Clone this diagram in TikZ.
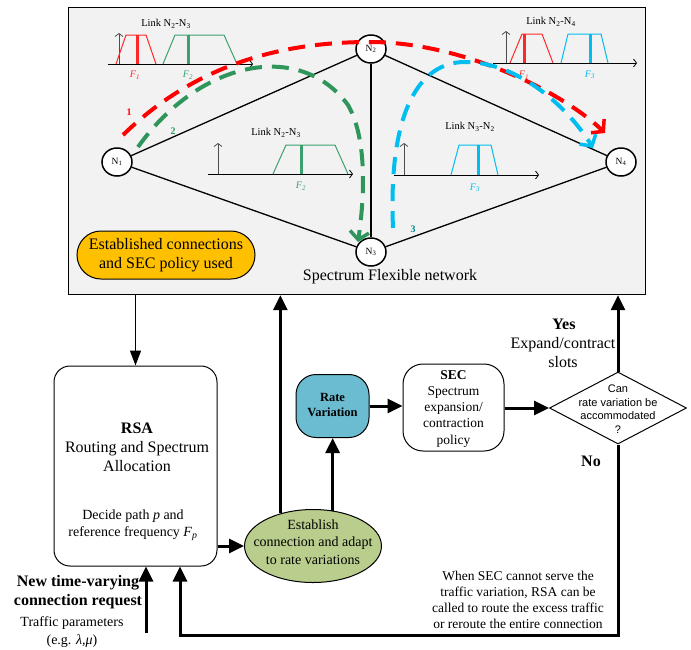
\documentclass[tikz,border=0pt]{standalone}
\usepackage{fontspec}
\setmainfont{Liberation Serif}
\newfontfamily\diafont{Liberation Sans}
\usetikzlibrary{arrows.meta,shapes.geometric,calc}
\definecolor{netgray}{RGB}{242,242,242}
\definecolor{estorange}{RGB}{255,192,0}
\definecolor{rateblue}{RGB}{107,188,209}
\definecolor{ellgreen}{RGB}{185,205,140}
\definecolor{pathred}{RGB}{255,0,0}
\definecolor{pathgreen}{RGB}{46,150,90}
\definecolor{pathblue}{RGB}{0,190,240}
\definecolor{specred}{RGB}{255,40,40}
\definecolor{specgreen}{RGB}{60,160,110}
\definecolor{labteal}{RGB}{0,140,140}
\tikzset{
  netnode/.style={ellipse, draw, line width=1.5pt, fill=white, minimum width=30pt, minimum height=28pt, inner sep=0pt, font=\fontsize{9.5}{10}\selectfont},
  link/.style={line width=1.3pt},
  pathline/.style={line width=4pt, dash pattern=on 17pt off 10pt, -{Straight Barb[length=8pt,width=19pt,line width=3.5pt]}},
  axisx/.style={line width=0.8pt, -{Straight Barb[length=3pt,width=8pt]}},
  axisy/.style={line width=0.8pt, draw=black!70, -{Straight Barb[length=3pt,width=8pt]}},
  specthin/.style={line width=1pt},
  specthick/.style={line width=3pt},
  flab/.style={font=\fontsize{10}{12}\selectfont, inner sep=0pt},
  linklab/.style={font=\fontsize{10.5}{12}\selectfont, inner sep=0pt},
  numlab/.style={font=\fontsize{10}{12}\selectfont\bfseries, inner sep=0pt},
  box/.style={draw, line width=1pt, inner sep=0pt},
  txt/.style={align=center, inner sep=0pt},
  thickarrow/.style={line width=3pt, -{Triangle[length=15pt,width=14pt]}},
  thinarrow/.style={line width=1.3pt, -{Triangle[length=15pt,width=11pt]}},
}
\begin{document}
\begin{tikzpicture}[x=1pt,y=-1pt]
\useasboundingbox (0,0) rectangle (691,649);
% network panel
\node[draw, fill=netgray, line width=1.2pt, minimum width=577pt, minimum height=287pt, inner sep=0pt, anchor=north west] (net) at (68,7) {};

% spectrum plot 1 (Link N2-N3, top left)
\draw[axisx] (108,64) -- (253,64);
\draw[axisy] (119,64) -- (119,33);
\draw[specthin, specred] (116,64) -- (126,35) -- (146,35) -- (156,64);
\draw[specthick, specred] (137,64) -- (137,35);
\draw[specthin, specgreen] (163,64) -- (175,35) -- (224,35) -- (237,64);
\draw[specthick, specgreen] (188,64) -- (188,35);
\node[flab, text=specred] (f1a) at (135,75) {\textit{F}\textsubscript{\textit{1}}};
\node[flab, text=specgreen] (f2a) at (188,75) {\textit{F}\textsubscript{\textit{2}}};
\node[linklab] (lk1) at (166,24) {Link N\textsubscript{2}-N\textsubscript{3}};

% spectrum plot 2 (Link N2-N4)
\draw[axisx] (493,63) -- (637,63);
\draw[axisy] (506,63) -- (506,31);
\draw[specthin, specred] (510,63) -- (522,34) -- (542,34) -- (553,63);
\draw[specthick, specred] (524,63) -- (524,34);
\draw[specthin, pathblue] (561,63) -- (568,34) -- (601,34) -- (608,63);
\draw[specthick, pathblue] (590,63) -- (590,34);
\node[flab, text=specred] (f1b) at (524,75) {\textit{F}\textsubscript{\textit{1}}};
\node[flab, text=pathblue] (f3b) at (590,75) {\textit{F}\textsubscript{\textit{3}}};
\node[linklab] (lk2) at (551,22) {Link N\textsubscript{2}-N\textsubscript{4}};

% spectrum plot 3 (Link N2-N3, middle)
\draw[axisx] (208,174) -- (353,174);
\draw[axisy] (218,174) -- (218,143);
\draw[specthin, specgreen] (273,174) -- (286,145) -- (335,145) -- (348,174);
\draw[specthick, specgreen] (301,174) -- (301,145);
\node[flab, text=specgreen] (f2c) at (301,186) {\textit{F}\textsubscript{\textit{2}}};
\node[linklab] (lk3) at (276,133) {Link N\textsubscript{2}-N\textsubscript{3}};

% spectrum plot 4 (Link N3-N2)
\draw[axisx] (394,175) -- (539,175);
\draw[axisy] (404,175) -- (404,143);
\draw[specthin, pathblue] (451,175) -- (459,145) -- (491,145) -- (498,175);
\draw[specthick, pathblue] (478,175) -- (478,145);
\node[flab, text=pathblue] (f3d) at (475,188) {\textit{F}\textsubscript{\textit{3}}};
\node[linklab] (lk4) at (470,127) {Link N\textsubscript{3}-N\textsubscript{2}};

% network nodes
\node[netnode] (N1) at (117,162) {N\textsubscript{1}};
\node[netnode] (N2) at (371,49) {N\textsubscript{2}};
\node[netnode] (N3) at (371,252) {N\textsubscript{3}};
\node[netnode] (N4) at (621,162) {N\textsubscript{4}};
\draw[link] (N1) -- (N2);
\draw[link] (N1) -- (N3);
\draw[link] (N2) -- (N3);
\draw[link] (N2) -- (N4);
\draw[link] (N3) -- (N4);

% lightpaths
\draw[pathline, pathred] (123,135) .. controls (200,60) and (290,42) .. (370,42) .. controls (460,42) and (560,90) .. (605,133);
\draw[pathline, pathgreen] (138,147) .. controls (200,60) and (300,40) .. (348,105) .. controls (368,140) and (364,200) .. (358,242);
\draw[pathline, pathblue] (393,228) .. controls (388,110) and (420,62) .. (465,62) .. controls (520,62) and (570,110) .. (593,148);
\node[numlab, text=pathred] (n1lab) at (129,112) {1};
\node[numlab, text=pathgreen] (n2lab) at (173,131) {2};
\node[numlab, text=labteal] (n3lab) at (413,229) {3};

\node[box, fill=estorange, rounded corners=24pt, minimum width=178pt, minimum height=48pt, align=center, font=\fontsize{16}{19}\selectfont] (est) at (166,255) {Established connections\\and SEC policy used};
\node[txt, font=\fontsize{16}{19}\selectfont] (netlab) at (390,277) {Spectrum Flexible network};

% lower flow
\node[box, rounded corners=16pt, minimum width=163pt, minimum height=200pt] (rsa) at (135.5,466) {};
\node[txt, font=\fontsize{16}{19}\selectfont] (rsaT) at (137,447) {\textbf{RSA}\\Routing and Spectrum\\Allocation};
\node[txt, font=\fontsize{14}{17}\selectfont] (rsaD) at (133,525.5) {Decide path \textit{p} and\\reference frequency \textit{F}\textsubscript{\textit{p}}};

\node[box, ellipse, fill=ellgreen, minimum width=137pt, minimum height=73pt] (ell) at (313,546) {};
\node[txt, font=\fontsize{14}{17.5}\selectfont] (ellT) at (313,542) {Establish\\connection and adapt\\to rate variations};

\node[box, fill=rateblue, rounded corners=20pt, minimum width=73pt, minimum height=63pt] (rate) at (332.5,406) {};
\node[txt, font=\fontsize{12.5}{15}\selectfont\bfseries] (rateT) at (332.5,405) {Rate\\Variation};

\node[box, rounded corners=20pt, minimum width=101pt, minimum height=87pt] (sec) at (453.5,407.5) {};
\node[txt, font=\fontsize{13.5}{16.25}\selectfont] (secT) at (453.5,408.5) {\textbf{SEC}\\Spectrum\\expansion/\\contraction\\policy};

\node[box, diamond, minimum width=137pt, minimum height=72pt] (dia) at (618,408) {};
\node[txt, font=\diafont\fontsize{11}{13.5}\selectfont] (diaT) at (618,409) {Can\\rate variation be\\accommodated\\?};

\node[txt, font=\fontsize{16}{19}\selectfont\bfseries] (yes) at (564,324) {Yes};
\node[txt, font=\fontsize{16}{19}\selectfont] (expand) at (563,352.5) {Expand/contract\\slots};
\node[txt, font=\fontsize{16}{19}\selectfont\bfseries] (no) at (591,461) {No};
\node[txt, font=\fontsize{13.5}{16}\selectfont] (when) at (518,600) {When SEC cannot serve the\\traffic variation, RSA can be\\called to route the excess traffic\\or reroute the entire connection};
\node[txt, font=\fontsize{16}{19}\selectfont\bfseries] (newreq) at (78,592.5) {New time-varying\\connection request};
\node[txt, font=\fontsize{14}{18}\selectfont] (traffic) at (72,632) {Traffic parameters\\(e.g. \textit{λ,μ})};

% connectors
\draw[thinarrow] (rsa.north |- net.south) -- (rsa.north);
\draw[thickarrow] (rsa.east |- ell.west) -- (ell.west);
\draw[thickarrow] (ell.135) -- (ell.135 |- net.south);
\draw[thickarrow] (ell.61) -- (ell.61 |- rate.south);
\draw[thickarrow] (rate.east) -- (rate.east -| sec.west);
\draw[thickarrow] (sec.east |- dia.west) -- (dia.west);
\draw[thickarrow] (dia.north) -- (dia.north |- net.south);
\coordinate (fbk) at (180,635);
\draw[thickarrow] (dia.south) |- (fbk) -- (fbk |- rsa.south);
\coordinate (req) at (146,633);
\draw[thickarrow] (req) -- (req |- rsa.south);
\end{tikzpicture}
\end{document}
